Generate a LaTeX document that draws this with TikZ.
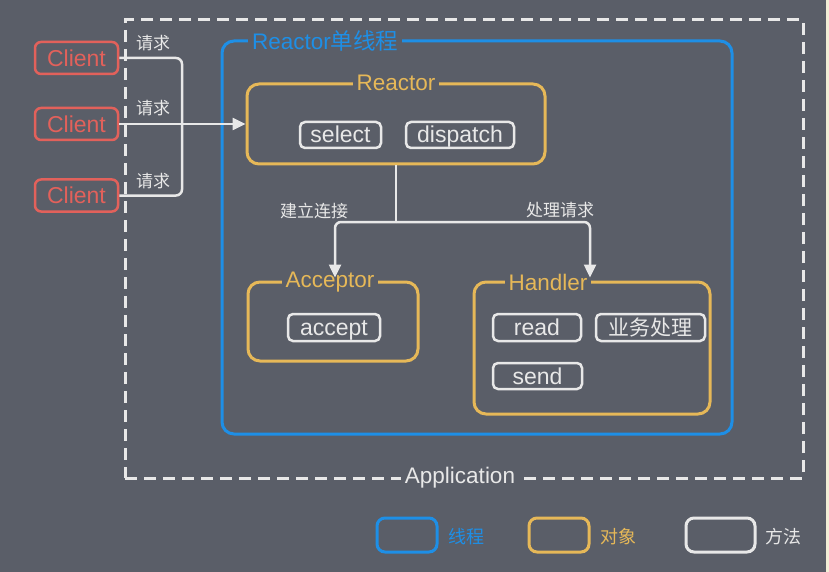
\documentclass[tikz,border=0pt]{standalone}
\usepackage{fontspec}
\setmainfont{Liberation Sans}
\newfontfamily\cjk{Noto Sans CJK SC}
\usetikzlibrary{arrows.meta}
\definecolor{bgc}{HTML}{5A5E68}
\definecolor{threadc}{HTML}{1E8FE6}
\definecolor{objc}{HTML}{E6B858}
\definecolor{methc}{HTML}{E8E8E8}
\definecolor{clientc}{HTML}{E2615B}
\definecolor{edgec}{HTML}{F3EED6}

\begin{document}
\begin{tikzpicture}[x=1pt, y=-1pt, >={Triangle[width=12pt,length=13pt]},
          thread/.style={draw=threadc, line width=3pt, rounded corners=12pt},
          object/.style={draw=objc, line width=3pt, rounded corners=12pt},
          method/.style={draw=methc, text=methc, line width=2.5pt, rounded corners=5pt,
            inner sep=0pt, text height=18pt, text depth=2pt, font=\fontsize{23}{26}\selectfont},
          client/.style={draw=clientc, text=clientc, line width=2.5pt, rounded corners=6pt,
            minimum width=83pt, minimum height=32pt, inner sep=0pt, font=\fontsize{23}{26}\selectfont},
          title/.style={fill=bgc, inner sep=4pt, font=\fontsize{22.5}{26}\selectfont},
          wire/.style={draw=methc, line width=2.5pt, rounded corners=6pt},
          tag/.style={text=methc, font=\cjk\fontsize{17}{20}\selectfont},
          legend/.style={font=\cjk\fontsize{18}{21}\selectfont, anchor=west}]
        \useasboundingbox (0,0) rectangle (829,572);
        \fill[bgc] (0,0) rectangle (829,572);
        \fill[edgec] (826,0) rectangle (829,572);
        % application frame
        \node[draw=methc, dash pattern=on 12pt off 7pt, line width=3pt,
          minimum width=678pt, minimum height=458pt] (app) at (464,249) {};
        \node[title, text=methc] (apptitle) at (460,478) {Application};
        % the one thread
        \node[thread, minimum width=510pt, minimum height=393pt] (single) at (477,237.5) {};
        \node[title, text=threadc, anchor=west] (singletitle) at (248,41) {Reactor{\cjk 单线程}};
        % reactor
        \node[object, minimum width=298pt, minimum height=80pt] (reactor) at (396,124) {};
        \node[title, text=objc] (reactortitle) at (reactor.north) {Reactor};
        \node[method, minimum width=81pt, minimum height=26pt] (select) at (340.5,135) {select};
        \node[method, minimum width=108pt, minimum height=26pt] (dispatch) at (460,135) {dispatch};
        % acceptor
        \node[object, minimum width=170pt, minimum height=79pt] (acceptor) at (333,321.5) {};
        \node[title, text=objc] (acceptortitle) at (330,282) {Acceptor};
        \node[method, minimum width=92pt, minimum height=27pt] (accept) at (334,327.5) {accept};
        % handler
        \node[object, minimum width=236pt, minimum height=132pt] (handler) at (592,348) {};
        \node[title, text=objc] (handlertitle) at (548,282) {Handler};
        \node[method, minimum width=88pt, minimum height=27pt] (read) at (537,327.5) {read};
        \node[method, minimum width=109pt, minimum height=27pt, font=\cjk\fontsize{21}{24}\selectfont]
          (work) at (650.5,327.5) {业务处理};
        \node[method, minimum width=89pt, minimum height=26pt] (send) at (537.5,376) {send};
        % clients
        \node[client] (c1) at (76.5,58) {Client};
        \node[client] (c2) at (76.5,124) {Client};
        \node[client] (c3) at (76.5,195.5) {Client};
        \coordinate (hub) at (182,124);
        \draw[wire] (c1.east) -| (hub);
        \draw[wire] (c3.east) -| (hub);
        \draw[wire, ->] (c2.east) -- (reactor.west);
        \node[tag] (ask1) at (153,43) {请求};
        \node[tag] (ask2) at (153,108) {请求};
        \node[tag] (ask3) at (153,181) {请求};
        % dispatch down
        \coordinate (split) at (396,222);
        \draw[wire] (reactor.south) -- (split);
        \draw[wire, ->] (split) -| ([xshift=2pt,yshift=3pt]acceptor.north);
        \draw[wire, ->] (split) -| ([xshift=-2pt,yshift=3pt]handler.north);
        \node[tag] (connect) at (314,211) {建立连接};
        \node[tag] (process) at (560,210) {处理请求};
        % legend
        \node[thread, rounded corners=8pt, minimum width=60pt, minimum height=34pt] (legthread) at (407,535) {};
        \node[legend, text=threadc] (legthreadtext) at (445,537) {线程};
        \node[object, rounded corners=8pt, minimum width=60pt, minimum height=34pt] (legobject) at (559,535) {};
        \node[legend, text=objc] (legobjecttext) at (597,537) {对象};
        \node[draw=methc, line width=3pt, rounded corners=8pt, minimum width=69pt, minimum height=34pt]
          (legmethod) at (720.5,535) {};
        \node[legend, text=methc] (legmethodtext) at (762,537) {方法};
      \end{tikzpicture}
\end{document}
